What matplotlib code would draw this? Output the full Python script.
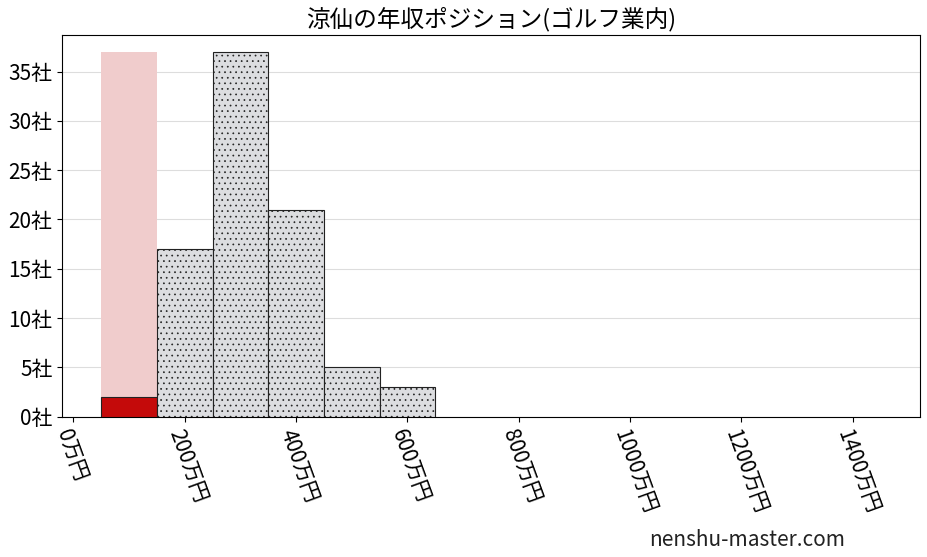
import matplotlib
matplotlib.use('Agg')
import matplotlib.pyplot as plt

plt.rcParams['font.family'] = ['Noto Sans CJK JP', 'DejaVu Sans']
plt.rcParams['hatch.color'] = '#c4c6ca'
plt.rcParams['hatch.linewidth'] = 0.5

# histogram bins (万円) and company counts
bin_left = [50, 150, 250, 350, 450, 550]
counts = [2, 17, 37, 21, 5, 3]
highlight_idx = 0
bin_width = 100
xticks = [0, 200, 400, 600, 800, 1000, 1200, 1400]
yticks = [0, 5, 10, 15, 20, 25, 30, 35]

fig, ax = plt.subplots(figsize=(9.28, 5.57), dpi=100)

# background highlight column for the company's bin
ax.bar(bin_left[highlight_idx], max(counts), width=bin_width, align='edge',
       color='#f0cccc', zorder=1)

for i, (x, c) in enumerate(zip(bin_left, counts)):
    if i == highlight_idx:
        ax.bar(x, c, width=bin_width, align='edge', color='#c40a0a',
               edgecolor='#222222', linewidth=0.8, zorder=3)
    else:
        ax.bar(x, c, width=bin_width, align='edge', color='#dcdde0',
               edgecolor='#222222', linewidth=0.8, hatch='...', zorder=3)

ax.set_xlim(-20, 1520)
ax.set_ylim(0, 38.7)
ax.set_xticks(xticks)
ax.set_xticklabels([f'{t}万円' for t in xticks], rotation=-70, fontsize=15,
                   ha='left', rotation_mode='anchor')
ax.set_yticks(yticks)
ax.set_yticklabels([f'{t}社' for t in yticks], fontsize=15)
ax.grid(axis='y', color='#dddddd', linewidth=0.8, zorder=0)
ax.set_axisbelow(True)
ax.set_title('涼仙の年収ポジション(ゴルフ業内)', fontsize=17)

fig.text(0.70, 0.02, 'nenshu-master.com', fontsize=15, color='#222222')
plt.subplots_adjust(left=0.067, right=0.991, top=0.937, bottom=0.252)
plt.savefig('out.png', dpi=100)
